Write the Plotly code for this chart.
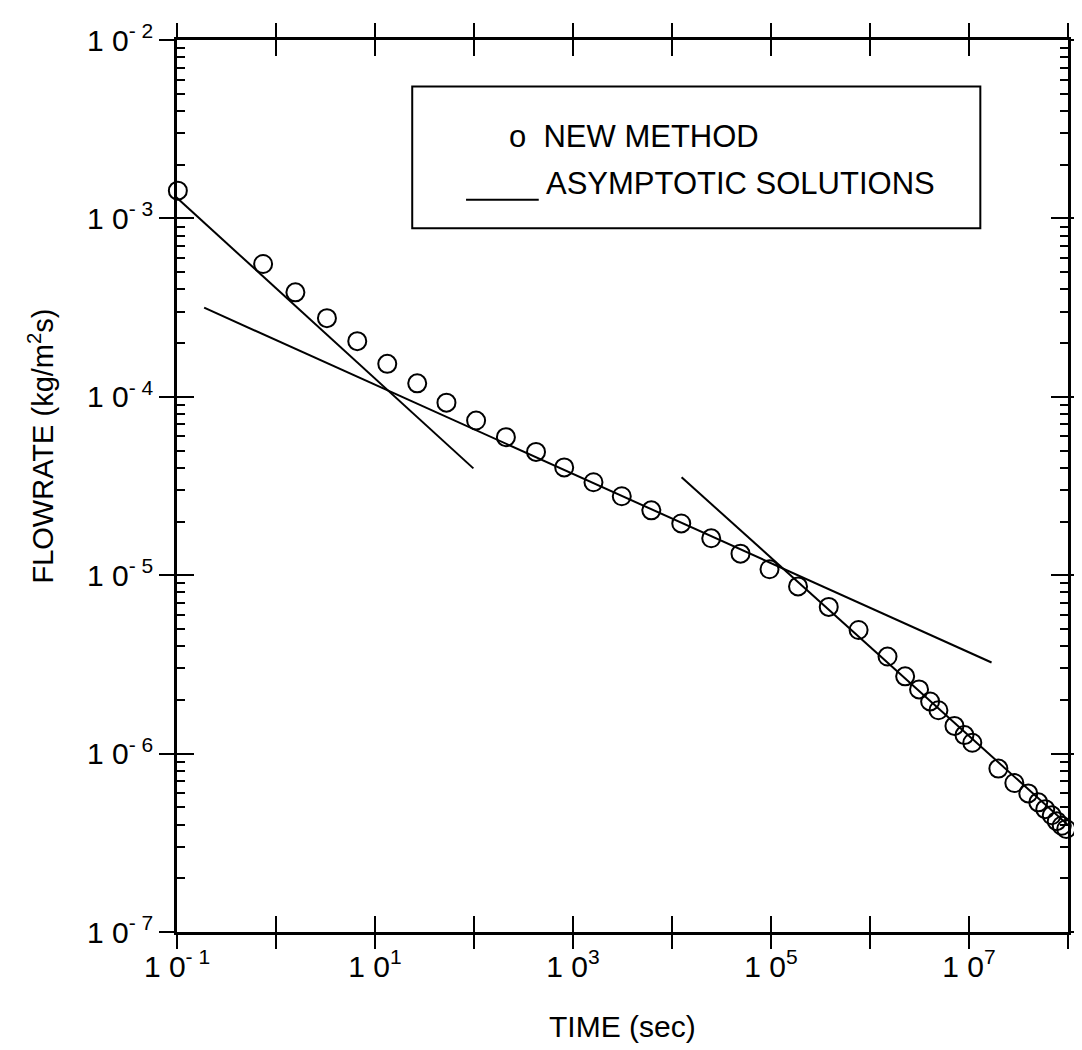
import plotly.graph_objects as go

# ---- data ----
time_s = [0.102, 0.741, 1.57, 3.27, 6.62, 13.3, 26.7, 52.7, 105, 210, 423, 815, 1610,
          3110, 6180, 12400, 24900, 49200, 96600, 1.875e5, 3.83e5, 7.67e5, 1.503e6,
          2.265e6, 3.13e6, 4.05e6, 4.91e6, 7.13e6, 9.0e6, 1.08e7, 1.98e7, 2.87e7,
          3.97e7, 5.01e7, 5.89e7, 6.85e7, 7.69e7, 8.65e7, 9.59e7]
flowrate = [1.43e-3, 5.55e-4, 3.85e-4, 2.76e-4, 2.05e-4, 1.53e-4, 1.19e-4, 9.27e-5,
            7.36e-5, 5.94e-5, 4.91e-5, 4.02e-5, 3.32e-5, 2.77e-5, 2.31e-5, 1.95e-5,
            1.61e-5, 1.32e-5, 1.08e-5, 8.65e-6, 6.64e-6, 4.93e-6, 3.50e-6, 2.71e-6,
            2.29e-6, 1.96e-6, 1.75e-6, 1.43e-6, 1.27e-6, 1.15e-6, 8.24e-7, 6.84e-7,
            5.98e-7, 5.33e-7, 4.88e-7, 4.51e-7, 4.18e-7, 3.94e-7, 3.78e-7]

# asymptotic solutions (segment end points)
asym_early_t = [0.081, 98.6]
asym_early_f = [1.45e-3, 3.97e-5]
asym_mid_t = [0.188, 1.69e7]
asym_mid_f = [3.16e-4, 3.24e-6]
asym_late_t = [1.25e4, 1.0e8]
asym_late_f = [3.54e-5, 3.98e-7]

x_tick_exps = list(range(-1, 9))
x_tick_labels = ["1 0<sup>- 1</sup>", "", "1 0<sup>1</sup>", "", "1 0<sup>3</sup>", "",
                 "1 0<sup>5</sup>", "", "1 0<sup>7</sup>", ""]
y_tick_exps = list(range(-7, -1))
y_tick_labels = ["1 0<sup>- 7</sup>", "1 0<sup>- 6</sup>", "1 0<sup>- 5</sup>",
                 "1 0<sup>- 4</sup>", "1 0<sup>- 3</sup>", "1 0<sup>- 2</sup>"]

legend_marker_text = "o  NEW METHOD"
legend_line_text = "ASYMPTOTIC SOLUTIONS"
x_title = "TIME (sec)"
y_title = "FLOWRATE (kg/m<sup>2</sup>s)"

# ---- figure ----
FONT = "Liberation Sans, Arial, Helvetica, sans-serif"
x_tick_vals = [10.0 ** e for e in x_tick_exps]
y_tick_vals = [10.0 ** e for e in y_tick_exps]
y_minor_vals = [k * 10.0 ** e for e in range(-7, -2) for k in range(2, 10)]

fig = go.Figure()
for tt, ff in [(asym_early_t, asym_early_f), (asym_mid_t, asym_mid_f), (asym_late_t, asym_late_f)]:
    fig.add_trace(go.Scatter(x=tt, y=ff, mode="lines", line=dict(color="black", width=2),
                             showlegend=False, hoverinfo="skip"))
fig.add_trace(go.Scatter(x=time_s, y=flowrate, mode="markers", cliponaxis=False,
                         marker=dict(symbol="circle-open", size=18, color="black",
                                     line=dict(width=2, color="black")),
                         showlegend=False))
# invisible traces to activate overlay axes (outside major ticks, minor ticks)
fig.add_trace(go.Scatter(x=[x_tick_vals[3]], y=[y_tick_vals[3]], xaxis="x2", yaxis="y2",
                         mode="markers", marker=dict(opacity=0), showlegend=False,
                         hoverinfo="skip"))
fig.add_trace(go.Scatter(x=[x_tick_vals[3]], y=[y_tick_vals[3]], xaxis="x2", yaxis="y3",
                         mode="markers", marker=dict(opacity=0), showlegend=False,
                         hoverinfo="skip"))

common_x = dict(type="log", range=[-1, 8], tickvals=x_tick_vals, showgrid=False,
                zeroline=False, tickcolor="black", tickwidth=1.5, ticklen=16, mirror="ticks")
common_y = dict(type="log", range=[-7, -2], showgrid=False,
                zeroline=False, tickcolor="black", tickwidth=1.5, mirror="ticks")

# page body has an 8px margin, so the figure is sized/placed to compensate
fig.update_layout(
    width=1074, height=1042,
    margin=dict(l=169, r=11, t=24, b=118),
    plot_bgcolor="white", paper_bgcolor="white",
    showlegend=False,
    font=dict(family=FONT, color="black"),
    xaxis=dict(**common_x, ticks="inside", ticktext=x_tick_labels,
               showline=True, linecolor="black", linewidth=2.5,
               ticklabelstandoff=6,
               tickfont=dict(size=30, family=FONT, color="black")),
    xaxis2=dict(**common_x, overlaying="x", side="bottom", ticks="outside",
                showticklabels=False, showline=False),
    yaxis=dict(**common_y, tickvals=y_tick_vals, ticks="inside", ticklen=17,
               ticktext=y_tick_labels,
               showline=True, linecolor="black", linewidth=2.5,
               ticklabelstandoff=15,
               tickfont=dict(size=30, family=FONT, color="black")),
    yaxis2=dict(**common_y, tickvals=y_tick_vals, ticklen=17, overlaying="y", side="left",
                ticks="outside", showticklabels=False, showline=False),
    yaxis3=dict(**common_y, tickvals=y_minor_vals, ticklen=8, overlaying="y", side="left",
                ticks="inside", showticklabels=False, showline=False),
)

# legend box
fig.add_shape(type="rect", xref="paper", yref="paper", x0=0.264, x1=0.9016, y0=0.789, y1=0.948,
              line=dict(color="black", width=2), fillcolor="white", layer="above")
fig.add_shape(type="line", xref="paper", yref="paper", x0=0.3244, x1=0.4060, y0=0.821, y1=0.821,
              line=dict(color="black", width=2))
fig.add_annotation(text=legend_marker_text, xref="paper", yref="paper", x=0.3700, y=0.892,
                   xanchor="left", yanchor="middle", showarrow=False,
                   font=dict(size=31, family=FONT, color="black"))
fig.add_annotation(text=legend_line_text, xref="paper", yref="paper", x=0.4120, y=0.839,
                   xanchor="left", yanchor="middle", showarrow=False,
                   font=dict(size=31, family=FONT, color="black"))

# axis titles
fig.add_annotation(text=x_title, xref="paper", yref="paper", x=0.5, y=-0.106,
                   xanchor="center", yanchor="middle", showarrow=False,
                   font=dict(size=30, family=FONT, color="black"))
fig.add_annotation(text=y_title, xref="paper", yref="paper", x=-0.153, y=0.545,
                   xanchor="center", yanchor="middle", showarrow=False, textangle=-90,
                   font=dict(size=29, family=FONT, color="black"))

fig.write_html("out.html")
